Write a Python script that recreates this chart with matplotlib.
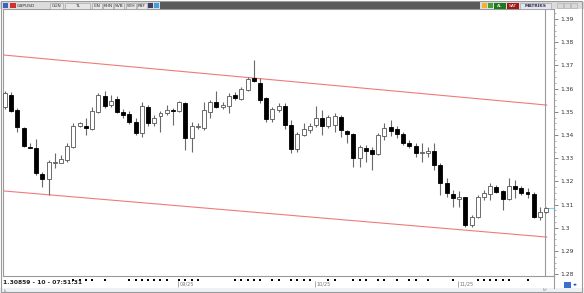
import matplotlib.pyplot as plt
from matplotlib.patches import Rectangle
from matplotlib.ticker import FixedLocator, FormatStrFormatter

# daily GBPUSD candles
opens = [1.3521, 1.3572, 1.3508, 1.3430, 1.3350, 1.3344, 1.3232, 1.3210, 1.3279, 1.3279,
         1.3292, 1.3348, 1.3439, 1.3439, 1.3426, 1.3499, 1.3568, 1.3529, 1.3555, 1.3499,
         1.3491, 1.3456, 1.3409, 1.3521, 1.3452, 1.3482, 1.3495, 1.3508, 1.3503, 1.3538,
         1.3387, 1.3434, 1.3430, 1.3499, 1.3542, 1.3521, 1.3525, 1.3572, 1.3555, 1.3594,
         1.3646, 1.3624, 1.3559, 1.3469, 1.3508, 1.3525, 1.3443, 1.3340, 1.3400, 1.3422,
         1.3443, 1.3473, 1.3439, 1.3443, 1.3478, 1.3417, 1.3404, 1.3301, 1.3344, 1.3335,
         1.3318, 1.3396, 1.3434, 1.3426, 1.3404, 1.3366, 1.3353, 1.3322, 1.3322, 1.3331,
         1.3271, 1.3193, 1.3146, 1.3124, 1.3133, 1.3012, 1.3047, 1.3133, 1.3146, 1.3176,
         1.3159, 1.3124, 1.3180, 1.3172, 1.3154, 1.3146, 1.3047, 1.3068]
highs = [1.3590, 1.3585, 1.3516, 1.3434, 1.3366, 1.3383, 1.3241, 1.3292, 1.3322, 1.3314,
         1.3366, 1.3452, 1.3456, 1.3473, 1.3521, 1.3581, 1.3590, 1.3572, 1.3568, 1.3512,
         1.3503, 1.3473, 1.3542, 1.3529, 1.3486, 1.3503, 1.3529, 1.3516, 1.3547, 1.3542,
         1.3456, 1.3452, 1.3542, 1.3551, 1.3590, 1.3542, 1.3581, 1.3585, 1.3607, 1.3650,
         1.3723, 1.3646, 1.3564, 1.3521, 1.3538, 1.3538, 1.3465, 1.3413, 1.3452, 1.3452,
         1.3525, 1.3508, 1.3486, 1.3495, 1.3486, 1.3422, 1.3409, 1.3357, 1.3357, 1.3348,
         1.3409, 1.3452, 1.3465, 1.3439, 1.3413, 1.3378, 1.3366, 1.3366, 1.3348, 1.3366,
         1.3279, 1.3215, 1.3163, 1.3159, 1.3133, 1.3055, 1.3141, 1.3163, 1.3193, 1.3185,
         1.3163, 1.3215, 1.3206, 1.3180, 1.3172, 1.3154, 1.3090, 1.3090]
lows = [1.3512, 1.3499, 1.3413, 1.3348, 1.3344, 1.3228, 1.3176, 1.3141, 1.3258, 1.3279,
        1.3284, 1.3344, 1.3434, 1.3400, 1.3422, 1.3495, 1.3516, 1.3521, 1.3495, 1.3473,
        1.3447, 1.3400, 1.3391, 1.3439, 1.3439, 1.3413, 1.3486, 1.3443, 1.3499, 1.3335,
        1.3327, 1.3426, 1.3422, 1.3473, 1.3516, 1.3512, 1.3495, 1.3551, 1.3551, 1.3590,
        1.3628, 1.3538, 1.3456, 1.3456, 1.3499, 1.3426, 1.3322, 1.3327, 1.3396, 1.3409,
        1.3434, 1.3400, 1.3430, 1.3413, 1.3391, 1.3366, 1.3262, 1.3262, 1.3284, 1.3249,
        1.3314, 1.3378, 1.3396, 1.3387, 1.3357, 1.3344, 1.3305, 1.3284, 1.3305, 1.3249,
        1.3141, 1.3133, 1.3090, 1.3090, 1.3003, 1.3003, 1.3042, 1.3120, 1.3120, 1.3150,
        1.3077, 1.3120, 1.3128, 1.3141, 1.3128, 1.3042, 1.3034, 1.3064]
closes = [1.3581, 1.3503, 1.3434, 1.3353, 1.3346, 1.3236, 1.3210, 1.3284, 1.3284, 1.3297,
          1.3353, 1.3439, 1.3452, 1.3430, 1.3503, 1.3572, 1.3525, 1.3547, 1.3499, 1.3486,
          1.3456, 1.3409, 1.3525, 1.3452, 1.3473, 1.3495, 1.3508, 1.3503, 1.3542, 1.3387,
          1.3439, 1.3439, 1.3508, 1.3542, 1.3521, 1.3529, 1.3568, 1.3559, 1.3598, 1.3641,
          1.3633, 1.3551, 1.3469, 1.3512, 1.3525, 1.3443, 1.3340, 1.3404, 1.3426, 1.3439,
          1.3473, 1.3439, 1.3478, 1.3482, 1.3422, 1.3404, 1.3301, 1.3348, 1.3331, 1.3318,
          1.3400, 1.3430, 1.3417, 1.3404, 1.3366, 1.3353, 1.3322, 1.3327, 1.3331, 1.3271,
          1.3193, 1.3150, 1.3128, 1.3133, 1.3012, 1.3047, 1.3133, 1.3150, 1.3180, 1.3154,
          1.3124, 1.3180, 1.3167, 1.3150, 1.3146, 1.3047, 1.3068, 1.3086]

# trend channel (two red lines)
channel_x = [-0.32, 87.1]
upper_channel = [1.3745, 1.3529]
lower_channel = [1.3159, 1.2960]

# date strip
month_idx = [28, 50, 73]
month_labels = ['09/25', '10/25', '11/25']
dot_idx = [11, 12, 13, 14, 16, 20, 21, 22, 23, 24, 25, 26, 28, 29, 30, 31,
           37, 38, 39, 40, 41, 43, 44, 46, 47, 48, 49, 52, 53, 56, 57, 58,
           60, 61, 63, 65, 66, 68, 72, 76, 77, 78, 79, 80, 81, 84]

price_ticks = [1.28, 1.29, 1.30, 1.31, 1.32, 1.33, 1.34, 1.35, 1.36, 1.37, 1.38, 1.39]
status_text = '1.30859 - 10 - 07:51:31'

W, H = 584, 293
fig = plt.figure(figsize=(W / 100, H / 100), dpi=100)
fig.patch.set_facecolor('white')


def px_rect(x, y, w, h, color, **kw):
    fig.add_artist(Rectangle((x / W, 1 - (y + h) / H), w / W, h / H,
                             transform=fig.transFigure, facecolor=color,
                             edgecolor=kw.pop('ec', 'none'), lw=kw.pop('lw', 0.5), **kw))


def px_text(x, y, s, **kw):
    fig.text(x / W, 1 - y / H, s, va='center', ha=kw.pop('ha', 'left'), **kw)


# main price panel
ax = fig.add_axes([3 / W, 1 - 276 / H, 551 / W, 267 / H])
ax.set_xlim(-0.32, 88.26)
ax.set_ylim(1.27922, 1.39431)
for s in ax.spines.values():
    s.set_color('#9a9a9a')
    s.set_linewidth(0.8)

n = len(opens)
idx = list(range(n))
ax.vlines(idx, lows, highs, color='#6a6a6a', lw=0.8, zorder=2)
for i in idx:
    o, c = opens[i], closes[i]
    up = c >= o
    ax.bar(i, max(abs(c - o), 0.00005), bottom=min(o, c), width=0.64,
           color='white' if up else 'black',
           edgecolor='#555555' if up else 'black', lw=0.6, zorder=3)

ax.plot(channel_x, upper_channel, color='#f07a7a', lw=0.8, zorder=1)
ax.plot(channel_x, lower_channel, color='#f07a7a', lw=0.8, zorder=1)
ax.axvline(86.8, color='#9a9a9a', lw=0.8, zorder=1)
ax.hlines(closes[-1], 87.35, 88.2, color='#6fd8e8', lw=0.8, zorder=2)

ax.set_xticks([])
ax.yaxis.tick_right()
ax.yaxis.set_major_locator(FixedLocator(price_ticks))
ax.yaxis.set_major_formatter(FormatStrFormatter('%g'))
ax.yaxis.set_minor_locator(FixedLocator([t + k * 0.0025 for t in price_ticks for k in (1, 2, 3)]))
ax.tick_params(axis='y', which='major', length=3, width=0.5, color='#555555',
               labelsize=4.3, labelcolor='#333333', pad=1.5)
ax.tick_params(axis='y', which='minor', length=1.5, width=0.4, color='#777777')

# date strip below the panel
ax2 = fig.add_axes([3 / W, 1 - 288 / H, 551 / W, 12 / H])
ax2.set_xlim(ax.get_xlim())
ax2.set_ylim(0, 1)
ax2.axis('off')
ax2.scatter(dot_idx, [0.67] * len(dot_idx), marker='s', s=1.2, color='black', lw=0)
for mi, lab in zip(month_idx, month_labels):
    ax2.vlines(mi - 0.2, 0.05, 0.55, color='#888888', lw=0.5)
    ax2.text(mi + 0.1, 0.3, lab, fontsize=3.6, color='#777777', va='center')
px_text(3, 283, status_text, fontsize=4.3, fontweight='bold', color='#222222')

# bottom status bar
px_rect(0, 288, W, 5, '#eef1f5')
px_text(4, 290.5, 'ılı', fontsize=3, color='#777777')
px_text(543, 290, 'ılıl', fontsize=3, color='#777777')
px_rect(564, 282, 7, 6, '#3a6fd0')
px_text(573, 285, '◂▸', fontsize=3.5, color='#2050b0')
fig.add_artist(plt.Line2D([554 / W, 554 / W], [1 - 276 / H, 1 - 288 / H],
                          transform=fig.transFigure, color='#9a9a9a', lw=0.8))

# top toolbar
px_rect(0, 2, W, 7, '#dcdcdc')
px_rect(160, 2, 320, 7, '#5a5a5a')
px_rect(3, 3, 5, 5, '#4060c0')
px_rect(10, 3, 6, 5, '#d03030')
px_text(17, 5.6, 'GBPUSD', fontsize=3.2, color='#333333')
for x0, w, lab in [(50, 13, 'GÜN'), (65, 25, 'TL'), (92, 10, 'LİN'), (103, 10, 'KHN'),
                   (114, 10, 'SVB'), (126, 10, 'SYH'), (137, 10, 'FBF')]:
    px_rect(x0, 2.5, w, 6, '#e6e6e6', ec='#999999', lw=0.4)
    px_text(x0 + w / 2, 5.6, lab, fontsize=3.2, color='#333333', ha='center')
px_rect(148, 3, 5, 5, '#404060')
px_rect(154, 3, 5, 5, '#40a0e0')
px_rect(482, 3, 5, 5, '#f0b030')
px_rect(488, 3, 5, 5, '#40a040')
px_rect(494, 3, 12, 5.5, '#1e7a1e')
px_text(500, 5.6, 'AL', fontsize=3.2, color='white', ha='center')
px_rect(507, 3, 12, 5.5, '#a01818')
px_text(513, 5.6, 'SAT', fontsize=3.2, color='white', ha='center')
px_rect(520, 2.5, 31, 6, '#e4e4ec', ec='#999999', lw=0.4)
px_text(535.5, 5.6, 'MATRİKS', fontsize=3.2, color='#333355', ha='center', fontweight='bold')
for x0 in (557, 564, 571):
    px_rect(x0, 3, 6, 5, '#d8d8d8', ec='#aaaaaa', lw=0.4)

# window frame
px_rect(0.5, 0.5, W - 3, H - 1.5, 'none', ec='#9a9a9a', lw=0.8)

fig.savefig('out.png', dpi=100)
